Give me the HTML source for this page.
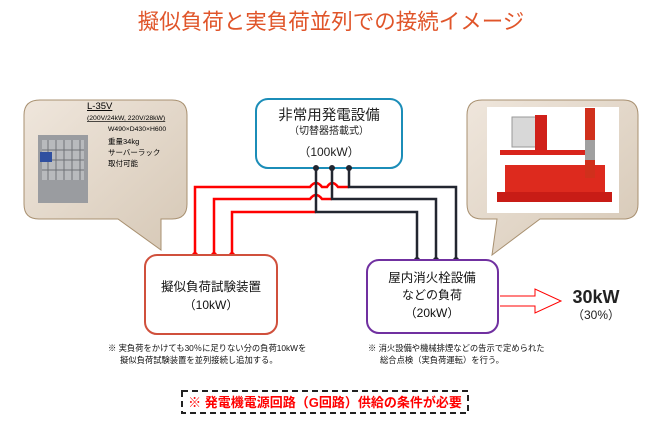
<!DOCTYPE html>
<html><head><meta charset="utf-8"><style>
body{margin:0;background:#fff}
svg{display:block}
text{font-family:"Liberation Sans","Noto Sans CJK JP",sans-serif}
</style></head><body>
<svg width="662" height="430" viewBox="0 0 662 430" xmlns="http://www.w3.org/2000/svg">
<defs>
<linearGradient id="bg" x1="0" y1="0" x2="1" y2="1"><stop offset="0" stop-color="#efe6dc"/><stop offset="1" stop-color="#d6c8b6"/></linearGradient>
</defs>
<text x="331" y="29" text-anchor="middle" font-size="21.5" fill="#e0552a">擬似負荷と実負荷並列での接続イメージ</text>

<!-- left bubble -->
<path d="M40,100 H172 Q187,100 187,115 V204 Q187,219 172,219 H161 V250 L118,219 H39 Q24,219 24,204 V115 Q24,100 40,100 Z" fill="url(#bg)" stroke="#a89070" stroke-width="1"/>
<rect x="38" y="135" width="50" height="68" fill="#9a9ca0"/>
<rect x="42" y="140" width="42" height="40" fill="#b8babd"/>
<g stroke="#6f7276" stroke-width="1">
<line x1="48" y1="140" x2="48" y2="180"/><line x1="56" y1="140" x2="56" y2="180"/><line x1="64" y1="140" x2="64" y2="180"/><line x1="72" y1="140" x2="72" y2="180"/><line x1="80" y1="140" x2="80" y2="180"/>
<line x1="42" y1="150" x2="84" y2="150"/><line x1="42" y1="160" x2="84" y2="160"/><line x1="42" y1="170" x2="84" y2="170"/>
</g>
<rect x="40" y="152" width="12" height="10" fill="#3050a0"/>
<text x="87" y="109" font-size="9.5" fill="#000" text-decoration="underline">L-35V</text>
<text x="87" y="120" font-size="6.8" fill="#000" text-decoration="underline">(200V/24kW, 220V/28kW)</text>
<text x="108" y="131" font-size="6.8" fill="#000">W490×D430×H600</text>
<text x="108" y="144" font-size="7.5" fill="#000">重量34kg</text>
<text x="108" y="155" font-size="7.5" fill="#000">サーバーラック</text>
<text x="108" y="166" font-size="7.5" fill="#000">取付可能</text>

<!-- right bubble -->
<path d="M482,100 H623 Q638,100 638,115 V204 Q638,219 623,219 H540 L492,255 L497,219 H482 Q467,219 467,204 V115 Q467,100 482,100 Z" fill="url(#bg)" stroke="#a89070" stroke-width="1"/>
<rect x="487" y="107" width="132" height="106" fill="#fff"/>
<rect x="512" y="117" width="32" height="30" fill="#d8d8d8" stroke="#999"/>
<rect x="535" y="115" width="12" height="35" fill="#d0201a"/>
<rect x="500" y="150" width="90" height="5" fill="#d8241c"/>
<rect x="505" y="165" width="100" height="30" fill="#dd2a1e"/>
<rect x="497" y="192" width="115" height="10" fill="#c81c16"/>
<rect x="585" y="108" width="10" height="70" fill="#d0301c"/>
<rect x="585" y="140" width="10" height="20" fill="#a0a0a0"/>

<!-- generator -->
<rect x="256" y="99" width="146" height="69" rx="12" fill="#fff" stroke="#1b8db8" stroke-width="2"/>
<text x="329" y="120" text-anchor="middle" font-size="14.5" fill="#222">非常用発電設備</text>
<text x="329" y="134" text-anchor="middle" font-size="10" fill="#222">（切替器搭載式）</text>
<text x="329" y="156" text-anchor="middle" font-size="12" fill="#222">（100kW）</text>

<!-- red lines -->
<g fill="none" stroke="#ff0000" stroke-width="2.5">
<path d="M195,255 V187 H310 Q316,179 322,187 H327 Q332,179 338,187 H349"/>
<path d="M214,255 V199 H310 Q316,191 322,199 H332"/>
<path d="M232,255 V212 H316"/>
</g>
<!-- black lines -->
<g fill="none" stroke="#222630" stroke-width="2.5">
<path d="M316,168 V212 H417 V260"/>
<path d="M332,168 V199 H436 V260"/>
<path d="M349,168 V187 H456 V260"/>
</g>
<g fill="#222630"><circle cx="316" cy="168" r="3"/><circle cx="332" cy="168" r="3"/><circle cx="349" cy="168" r="3"/>
<circle cx="417" cy="260" r="3"/><circle cx="436" cy="260" r="3"/><circle cx="456" cy="260" r="3"/></g>
<g fill="#ff0000"><circle cx="195" cy="255" r="3"/><circle cx="214" cy="255" r="3"/><circle cx="232" cy="255" r="3"/></g>

<!-- pseudo load -->
<rect x="145" y="255" width="132" height="79" rx="12" fill="#fff" stroke="#d0503c" stroke-width="2"/>
<text x="211" y="291" text-anchor="middle" font-size="12.5" fill="#111">擬似負荷試験装置</text>
<text x="211" y="309" text-anchor="middle" font-size="12" fill="#111">（10kW）</text>

<!-- fire load -->
<rect x="367" y="260" width="131" height="73" rx="12" fill="#fff" stroke="#7030a0" stroke-width="2"/>
<text x="432" y="282" text-anchor="middle" font-size="12.5" fill="#111">屋内消火栓設備</text>
<text x="432" y="299" text-anchor="middle" font-size="12" fill="#111">などの負荷</text>
<text x="432" y="317" text-anchor="middle" font-size="12" fill="#111">（20kW）</text>

<!-- arrow -->
<path d="M500,296 H535 V289 L561,301 L535,313 V306 H500" fill="#fff" stroke="#ff0000" stroke-width="1"/>
<text x="596" y="303" text-anchor="middle" font-size="18" font-weight="bold" fill="#222">30kW</text>
<text x="596" y="319" text-anchor="middle" font-size="12" fill="#222">（30%）</text>

<!-- notes -->
<text x="108" y="351" font-size="8.3" fill="#111">※ 実負荷をかけても30％に足りない分の負荷10kWを</text>
<text x="120" y="363" font-size="8.3" fill="#111">擬似負荷試験装置を並列接続し追加する。</text>
<text x="368" y="351" font-size="8.3" fill="#111">※ 消火設備や機械排煙などの告示で定められた</text>
<text x="380" y="363" font-size="8.3" fill="#111">総合点検（実負荷運転）を行う。</text>

<rect x="182" y="391" width="286" height="22" fill="#fff" stroke="#222" stroke-width="2" stroke-dasharray="6,4"/>
<text x="325" y="407" text-anchor="middle" font-size="13" font-weight="bold" fill="#ff0000">※ 発電機電源回路（G回路）供給の条件が必要</text>
</svg>
</body></html>
